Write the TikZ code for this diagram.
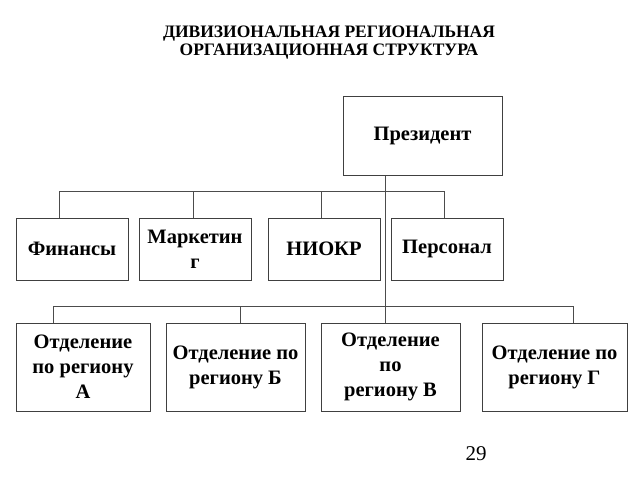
\documentclass[tikz,border=0pt]{standalone}
\usepackage{fontspec}
\setmainfont{Liberation Serif}
\usepackage{tikz}
\usetikzlibrary{positioning,calc}
\tikzset{box/.style={draw=black!75, line width=1pt, fill=white, inner sep=0pt, align=center, font=\fontsize{20.5}{25}\selectfont\bfseries},
	bus/.style={draw=black!70, line width=1pt}}

\begin{document}
\begin{tikzpicture}[x=1pt,y=-1pt]
			\useasboundingbox (0,0) rectangle (640,480);
			
			\node[align=center, font=\fontsize{17.5}{18.5}\selectfont\bfseries] (title) at (329,42.5) {ДИВИЗИОНАЛЬНАЯ РЕГИОНАЛЬНАЯ\\ОРГАНИЗАЦИОННАЯ СТРУКТУРА}; % title
			
			\node[box, minimum width=159pt, minimum height=79pt] (pres) at (422.5,135.5) {Президент}; % top
			
			% middle row, left to right
			\node[box, minimum width=112pt, minimum height=62pt] (fin)   at (72,249)  {Финансы};
			\node[box, minimum width=112pt, minimum height=62pt] (mark)  at (195,249) {Маркетин\\г};
			\node[box, minimum width=112pt, minimum height=62pt] (niokr) at (324,249) {НИОКР};
			\node[box, minimum width=112pt, minimum height=62pt] (pers)  at (447,249) {Персонал};
			
			% bottom row, left to right
			\node[box, minimum width=134pt, minimum height=88pt] (regA) at (83,367)    {Отделение\\по региону\\А};
			\node[box, minimum width=139pt, minimum height=88pt] (regB) at (235.5,367) {Отделение по\\региону Б};
			\node[box, minimum width=139pt, minimum height=88pt] (regV) at (390.5,367) {Отделение\\по\\региону В};
			\node[box, minimum width=145pt, minimum height=88pt] (regG) at (554.5,367) {Отделение по\\региону Г};
			
			\coordinate (t1) at (59,191); \coordinate (t2) at (193,191); \coordinate (t3) at (321,191); \coordinate (t4) at (444,191); % upper bus
			\coordinate (b1) at (53,306); \coordinate (b2) at (240,306); \coordinate (b3) at (385,306); \coordinate (b4) at (573,306); % lower bus
			
			\draw[bus] (pres.south -| b3) -- (regV.north -| b3); % trunk
			\draw[bus] (t1) -- (t4);
			\draw[bus] (b1) -- (b4);
			\draw[bus] (t1) -- (t1 |- fin.north);
			\draw[bus] (t2) -- (t2 |- mark.north);
			\draw[bus] (t3) -- (t3 |- niokr.north);
			\draw[bus] (t4) -- (t4 |- pers.north);
			\draw[bus] (b1) -- (b1 |- regA.north);
			\draw[bus] (b2) -- (b2 |- regB.north);
			\draw[bus] (b4) -- (b4 |- regG.north);
			
			\node[font=\fontsize{21}{24}\selectfont] (page) at (476,454) {29}; % page number
\end{tikzpicture}
\end{document}
